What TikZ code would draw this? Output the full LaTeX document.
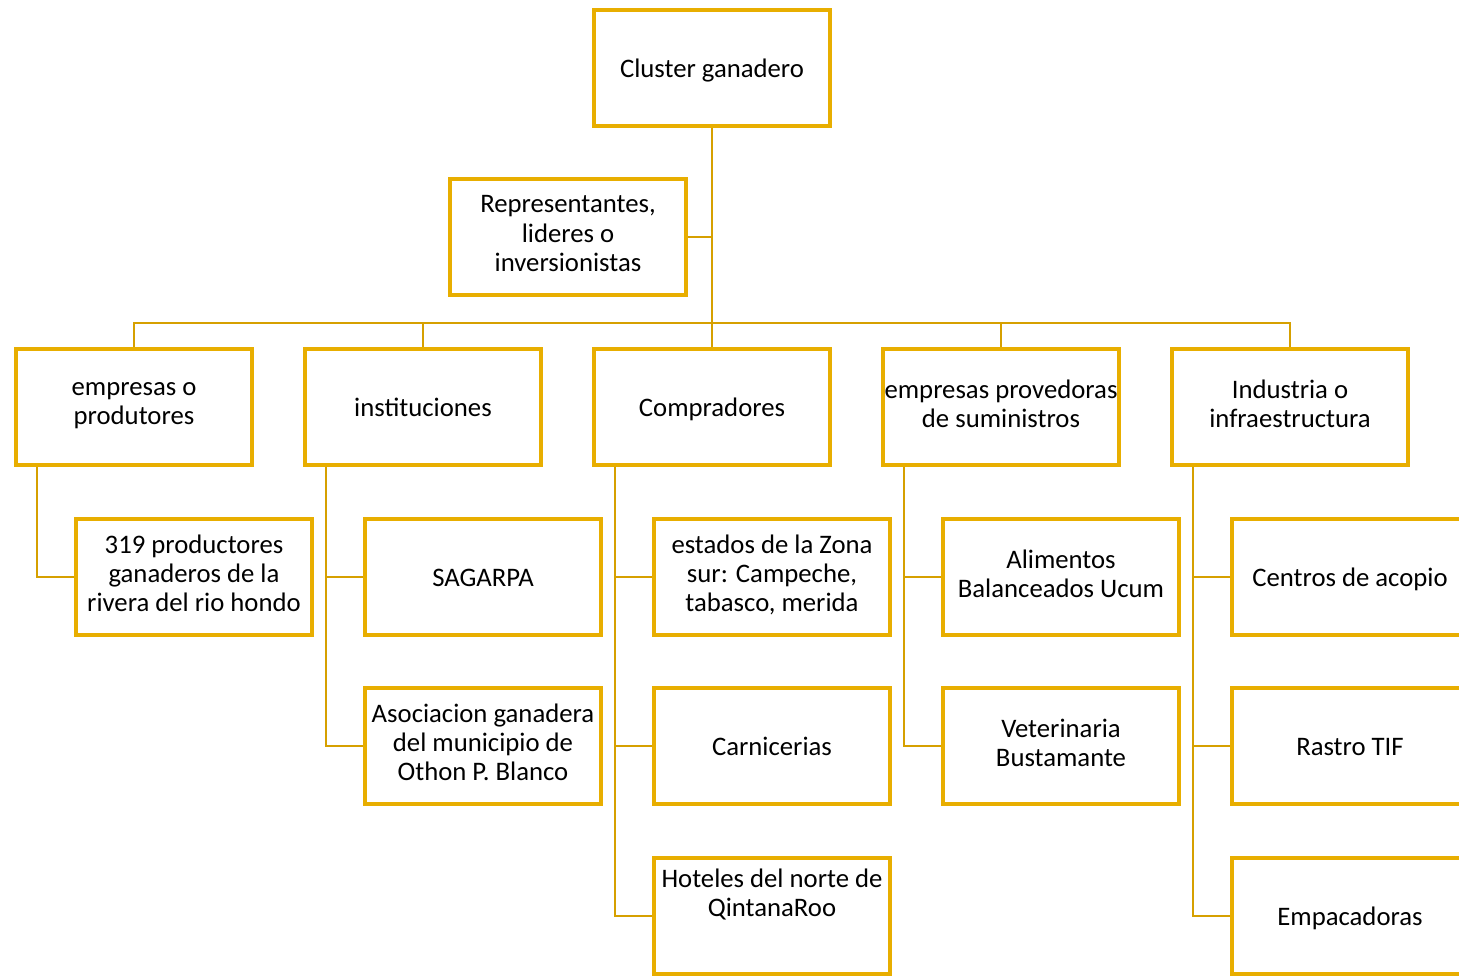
\documentclass[tikz,border=0pt]{standalone}
\usepackage{fontspec}
\setmainfont{Carlito}
\usetikzlibrary{positioning}
\definecolor{oro}{RGB}{232,174,0}
\definecolor{orolinea}{RGB}{214,160,0}
\newcommand\puntal{\rule[-2pt]{0pt}{9.58pt}}
\tikzset{
	caja/.style={draw=oro, line width=1pt, fill=white, minimum width=2.36cm, minimum height=1.16cm, align=center, inner sep=0pt, font=\fontsize{7.6}{8.3}\selectfont, execute at begin node=\puntal, execute at end node=\puntal},
	liga/.style={draw=orolinea, line width=0.6pt}
}

\begin{document}
\begin{tikzpicture}[x=0.01cm, y=-0.01cm]
	\useasboundingbox (0,0) rectangle (1459,976);
	\clip (0,0) rectangle (1459,976);
	% raiz
	\node[caja] (cluster) at (712, 68) {Cluster ganadero};
	\node[caja] (rep) at (568, 237) {Representantes,\\lideres o\\inversionistas};
	\coordinate (bus) at (712, 323);
	% segundo nivel
	\node[caja] (emp) at (134, 407) {empresas o\\produtores};
	\node[caja] (inst) at (423, 407) {instituciones};
	\node[caja] (compr) at (712, 407) {Compradores};
	\node[caja] (prov) at (1001, 407) {empresas provedoras\\de suministros};
	\node[caja] (ind) at (1290, 407) {Industria o\\infraestructura};
	% tercer nivel
	\node[caja] (prod) at (194, 577) {319 productores\\ganaderos de la\\rivera del rio hondo};
	\node[caja] (sagarpa) at (483, 577) {SAGARPA};
	\node[caja] (asoc) at (483, 746) {Asociacion ganadera\\del municipio de\\Othon P. Blanco};
	\node[caja] (zona) at (772, 577) {estados de la Zona\\sur: Campeche,\\tabasco, merida};
	\node[caja] (carn) at (772, 746) {Carnicerias};
	\node[caja] (hot) at (772, 916) {Hoteles del norte de\\QintanaRoo\\[2.8pt]\mbox{}};
	\node[caja] (alim) at (1061, 577) {Alimentos\\Balanceados Ucum};
	\node[caja] (vet) at (1061, 746) {Veterinaria\\Bustamante};
	\node[caja] (acop) at (1350, 577) {Centros de acopio};
	\node[caja] (rastro) at (1350, 746) {Rastro TIF};
	\node[caja] (empac) at (1350, 916) {Empacadoras};
	% conectores
	\draw[liga] (cluster.south) -- (compr.north);
	\draw[liga] (rep.east) -- (rep.east -| cluster.south);
	\draw[liga] (emp.north) |- (bus) -| (ind.north);
	\draw[liga] (inst.north) -- (inst.north |- bus);
	\draw[liga] (prov.north) -- (prov.north |- bus);
	\draw[liga] ([xshift=0.23cm]emp.south west) |- (prod.west);
	\draw[liga] ([xshift=0.23cm]inst.south west) |- (sagarpa.west);
	\draw[liga] ([xshift=0.23cm]inst.south west) |- (asoc.west);
	\draw[liga] ([xshift=0.23cm]compr.south west) |- (zona.west);
	\draw[liga] ([xshift=0.23cm]compr.south west) |- (carn.west);
	\draw[liga] ([xshift=0.23cm]compr.south west) |- (hot.west);
	\draw[liga] ([xshift=0.23cm]prov.south west) |- (alim.west);
	\draw[liga] ([xshift=0.23cm]prov.south west) |- (vet.west);
	\draw[liga] ([xshift=0.23cm]ind.south west) |- (acop.west);
	\draw[liga] ([xshift=0.23cm]ind.south west) |- (rastro.west);
	\draw[liga] ([xshift=0.23cm]ind.south west) |- (empac.west);
\end{tikzpicture}
\end{document}
